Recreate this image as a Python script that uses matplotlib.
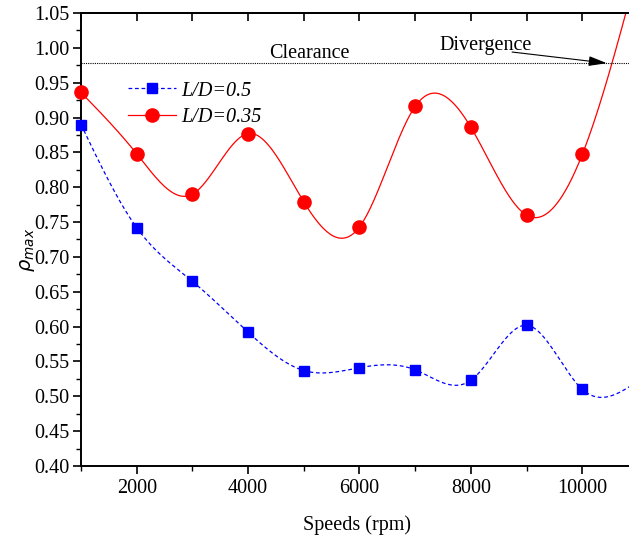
import numpy as np
import matplotlib
matplotlib.use("Agg")
import matplotlib.pyplot as plt
from matplotlib.ticker import MultipleLocator, FormatStrFormatter

plt.rcParams['font.family'] = ['Liberation Serif', 'DejaVu Serif']
plt.rcParams['mathtext.fontset'] = 'dejavusans'

# last point (11000 rpm) sits just past the right edge of the axis
speeds = [1000, 2000, 3000, 4000, 5000, 6000, 7000, 8000, 9000, 10000, 11000]
rho_ld05 = [0.890, 0.742, 0.665, 0.592, 0.537, 0.541, 0.538, 0.523, 0.602, 0.510, 0.522]
rho_ld035 = [0.936, 0.848, 0.790, 0.877, 0.779, 0.743, 0.916, 0.886, 0.760, 0.847, 1.115]
clearance = 0.978


def natural_spline(x, y, xs):
    # natural cubic spline through (x, y), evaluated at xs
    x = np.asarray(x, float)
    y = np.asarray(y, float)
    n = len(x)
    h = np.diff(x)
    A = np.zeros((n, n))
    b = np.zeros(n)
    A[0, 0] = 1.0
    A[-1, -1] = 1.0
    for i in range(1, n - 1):
        A[i, i - 1] = h[i - 1]
        A[i, i] = 2 * (h[i - 1] + h[i])
        A[i, i + 1] = h[i]
        b[i] = 6 * ((y[i + 1] - y[i]) / h[i] - (y[i] - y[i - 1]) / h[i - 1])
    M = np.linalg.solve(A, b)
    idx = np.clip(np.searchsorted(x, xs) - 1, 0, n - 2)
    x0, x1 = x[idx], x[idx + 1]
    hh = x1 - x0
    return (M[idx] * (x1 - xs) ** 3 / (6 * hh) + M[idx + 1] * (xs - x0) ** 3 / (6 * hh)
            + (y[idx] / hh - M[idx] * hh / 6) * (x1 - xs)
            + (y[idx + 1] / hh - M[idx + 1] * hh / 6) * (xs - x0))


fig = plt.figure(figsize=(6.29, 5.35), dpi=100)
x_lo, x_hi = 1000, 10900
ax = fig.add_axes([81 / 629, 1 - 466 / 535, (632.4 - 81) / 629, (466 - 13) / 535])

xs = np.linspace(speeds[0], speeds[-1], 800)
ax.plot(xs, natural_spline(speeds, rho_ld05, xs), color='#0000ff', lw=0.9,
        ls=(0, (3, 2.2)))
ax.plot(xs, natural_spline(speeds, rho_ld035, xs), color='#ff0000', lw=0.9)
ax.plot(speeds, rho_ld05, 's', color='#0000ff', ms=7.5, clip_on=False, zorder=4)
ax.plot(speeds, rho_ld035, 'o', color='#ff0000', ms=9.5, clip_on=False, zorder=4)

# legend proxies
h1, = ax.plot([], [], color='#0000ff', lw=0.9, ls=(0, (3, 2.2)), marker='s', ms=7.5)
h2, = ax.plot([], [], color='#ff0000', lw=0.9, marker='o', ms=9.5)
ax.legend([h1, h2], ['L/D=0.5', 'L/D=0.35'], loc='upper left',
          bbox_to_anchor=(0.085, 0.849), frameon=False, borderpad=0,
          borderaxespad=0, handlelength=2.4, handletextpad=0.25,
          labelspacing=0.35, prop={'size': 14.5, 'style': 'italic'})

ax.axhline(clearance, color='black', lw=0.8, ls=(0, (1, 1)))
ax.text(5100, 0.992, 'Clearance', fontsize=14.5, ha='center', va='center')
ax.text(8270, 1.003, 'Divergence', fontsize=14.5, ha='center', va='center')
ax.annotate('', xy=(10440, clearance), xytext=(8740, 0.994),
            arrowprops=dict(arrowstyle='-|>,head_length=1.1,head_width=0.3',
                            color='black', lw=0.8, shrinkA=0, shrinkB=0))

ax.set_xlim(x_lo, x_hi)
ax.set_ylim(0.40, 1.05)
ax.xaxis.set_major_locator(MultipleLocator(2000))
ax.xaxis.set_minor_locator(MultipleLocator(1000))
ax.yaxis.set_major_locator(MultipleLocator(0.05))
ax.yaxis.set_minor_locator(MultipleLocator(0.025))
ax.yaxis.set_major_formatter(FormatStrFormatter('%.2f'))
ax.tick_params(which='major', direction='out', length=6, width=1.2, labelsize=14.5)
ax.tick_params(axis='y', which='major', pad=2.5)
ax.tick_params(which='minor', direction='out', length=3.5, width=1.0)
for s in ax.spines.values():
    s.set_linewidth(1.4)

top = ax.secondary_xaxis('top')
top.xaxis.set_major_locator(MultipleLocator(1000))
top.tick_params(direction='in', length=6, width=1.2, labeltop=False)
top.spines['top'].set_linewidth(1.4)

ax.set_xlabel('Speeds (rpm)', fontsize=14.5, labelpad=12)
ax.set_ylabel(r'$\rho_{max}$', fontsize=14)
ax.yaxis.set_label_coords(-0.079, 0.477)

fig.savefig('out.png', dpi=100)
